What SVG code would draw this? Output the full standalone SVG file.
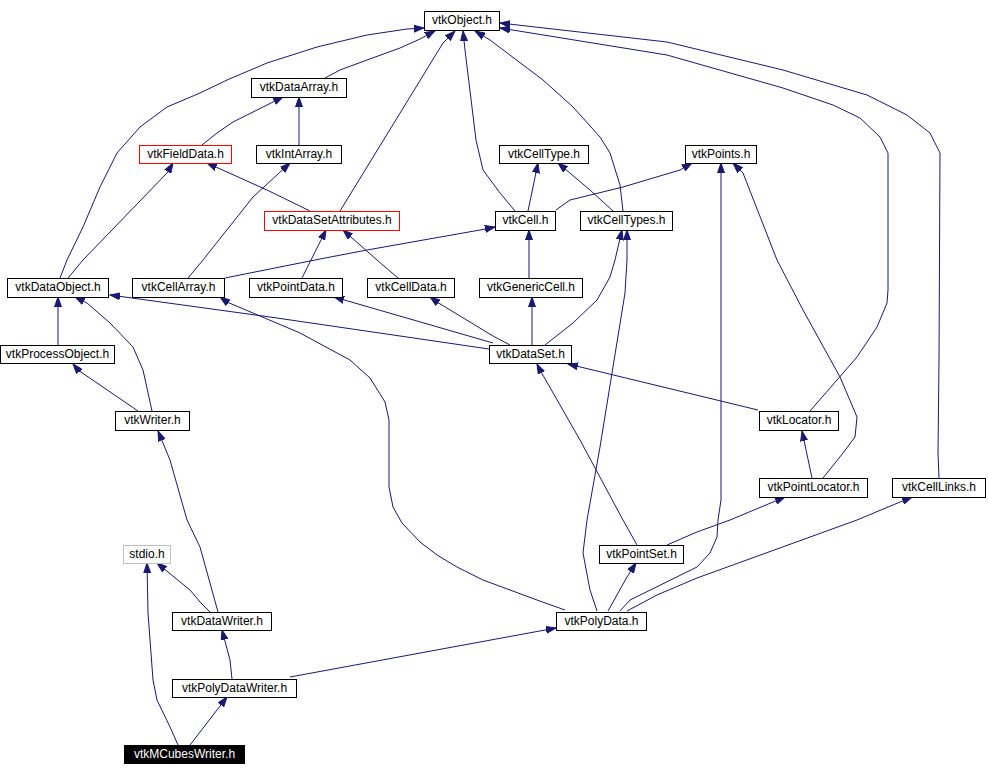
<svg xmlns="http://www.w3.org/2000/svg" width="988" height="776" viewBox="0 0 988 776">
<style>
.n rect{fill:#fff;stroke:#000;stroke-width:1}
.n text{font-family:"Liberation Sans",Arial,Helvetica,sans-serif;font-size:12px;fill:#000;text-anchor:middle}
.n.red rect{stroke:#ff0000}
.n.gray rect{stroke:#bfbfbf}
.n.blk rect{fill:#000}
.n.blk text{fill:#fff}
.e path{fill:none;stroke:#191970;stroke-width:1;marker-end:url(#a)}
</style>
<defs>
<marker id="a" markerWidth="11" markerHeight="8" refX="10" refY="4" orient="auto" markerUnits="userSpaceOnUse">
<path d="M0,0.5 L10,4 L0,7.5 z" fill="#191970" stroke="#191970" stroke-width="1"/>
</marker>
</defs>
<rect width="988" height="776" fill="#fff"/>
<g id="connectors" class="e">
<path d="M60,278 L67,260 L83,227 L100,187 L117,153 L140,127 L167,107 L200,93 L227,80 L267,63 L317,47 L367,35 L407,29 L424,28"/>
<path d="M325,78 L340,70 L367,60 L400,48 L420,39 L435,31"/>
<path d="M340,211 L443,43 L455,31"/>
<path d="M515,211 L500,193 L483,170 L476,140 L465,50 L463,31"/>
<path d="M623,211 L620,185 L610,153 L600,137 L573,107 L543,80 L490,40 L475,31"/>
<path d="M810,411 L857,357 L877,327 L887,303 L888,290 L888,153 L880,137 L860,118 L833,105 L783,88 L667,55 L500,28"/>
<path d="M939,478 L938,453 L939,360 L940,153 L930,133 L907,115 L867,95 L783,70 L667,42 L500,23"/>
<path d="M202,145 L217,133 L233,122 L267,105 L283,97"/>
<path d="M299,145 L299,97"/>
<path d="M68,278 L83,260 L167,173 L173,163"/>
<path d="M310,211 L267,190 L207,163"/>
<path d="M188,278 L203,260 L253,197 L290,163"/>
<path d="M302,278 L310,262 L326,230"/>
<path d="M398,278 L377,260 L343,230"/>
<path d="M528,211 L533,187 L538,163"/>
<path d="M613,211 L590,190 L558,163"/>
<path d="M556,210 L570,200 L623,187 L680,170 L692,163"/>
<path d="M620,611 L630,600 L697,567 L710,553 L717,537 L718,520 L721,500 L721,163"/>
<path d="M823,478 L843,453 L855,437 L857,417 L840,377 L803,310 L777,260 L743,173 L733,163"/>
<path d="M225,278 L320,259 L367,250 L480,230 L495,227"/>
<path d="M529,278 L529,230"/>
<path d="M545,345 L573,323 L597,300 L610,277 L615,260 L622,230"/>
<path d="M597,611 L590,590 L583,553 L587,520 L600,447 L612,373 L625,293 L627,260 L627,230"/>
<path d="M58,345 L58,297"/>
<path d="M152,411 L143,370 L133,347 L110,323 L87,303 L75,297"/>
<path d="M489,349 L270,317 L110,295"/>
<path d="M565,610 L537,600 L510,590 L483,580 L457,567 L437,555 L420,542 L402,523 L393,507 L389,487 L389,420 L385,402 L370,378 L350,360 L300,333 L227,302 L220,297"/>
<path d="M493,343 L334,297"/>
<path d="M510,345 L493,336 L437,302 L430,297"/>
<path d="M532,345 L532,297"/>
<path d="M138,411 L78,370 L73,364"/>
<path d="M758,410 L568,364"/>
<path d="M637,545 L623,520 L580,440 L540,370 L537,364"/>
<path d="M218,612 L200,547 L187,520 L170,460 L158,431"/>
<path d="M812,478 L802,431"/>
<path d="M667,545 L697,532 L730,520 L785,497"/>
<path d="M627,611 L657,595 L697,578 L857,520 L912,497"/>
<path d="M210,612 L200,602 L190,590 L157,563"/>
<path d="M178,745 L170,727 L157,700 L153,680 L148,613 L147,563"/>
<path d="M608,611 L627,577 L636,563"/>
<path d="M232,679 L230,660 L222,630"/>
<path d="M290,677 L556,628"/>
<path d="M190,745 L227,697"/>
</g>
<g id="vtkObject" class="n"><rect x="424.5" y="11.5" width="75" height="19"/><text x="462" y="24">vtkObject.h</text></g>
<g id="vtkDataArray" class="n"><rect x="251.5" y="78.5" width="95" height="19"/><text x="299" y="91">vtkDataArray.h</text></g>
<g id="vtkFieldData" class="n red"><rect x="139.5" y="145.5" width="92" height="18" stroke="#ff0000" style="stroke:#ff0000"/><text x="185.5" y="158">vtkFieldData.h</text></g>
<g id="vtkIntArray" class="n"><rect x="256.5" y="145.5" width="85" height="18"/><text x="299" y="158">vtkIntArray.h</text></g>
<g id="vtkDataSetAttributes" class="n red"><rect x="264.5" y="211.5" width="135" height="19" style="stroke:#ff0000"/><text x="332" y="224">vtkDataSetAttributes.h</text></g>
<g id="vtkCellType" class="n"><rect x="499.5" y="145.5" width="89" height="18"/><text x="544" y="158">vtkCellType.h</text></g>
<g id="vtkPoints" class="n"><rect x="685.5" y="145.5" width="71" height="18"/><text x="721" y="158">vtkPoints.h</text></g>
<g id="vtkCell" class="n"><rect x="495.5" y="211.5" width="60" height="19"/><text x="525.5" y="224">vtkCell.h</text></g>
<g id="vtkCellTypes" class="n"><rect x="580.5" y="211.5" width="92" height="19"/><text x="626.5" y="224">vtkCellTypes.h</text></g>
<g id="vtkDataObject" class="n"><rect x="7.5" y="278.5" width="101" height="19"/><text x="58" y="291">vtkDataObject.h</text></g>
<g id="vtkCellArray" class="n"><rect x="132.5" y="278.5" width="92" height="19"/><text x="178.5" y="291">vtkCellArray.h</text></g>
<g id="vtkPointData" class="n"><rect x="249.5" y="278.5" width="93" height="19"/><text x="296" y="291">vtkPointData.h</text></g>
<g id="vtkCellData" class="n"><rect x="367.5" y="278.5" width="87" height="19"/><text x="411" y="291">vtkCellData.h</text></g>
<g id="vtkGenericCell" class="n"><rect x="479.5" y="278.5" width="103" height="19"/><text x="531" y="291">vtkGenericCell.h</text></g>
<g id="vtkProcessObject" class="n"><rect x="0.5" y="345.5" width="114" height="18"/><text x="57.5" y="358">vtkProcessObject.h</text></g>
<g id="vtkDataSet" class="n"><rect x="489.5" y="345.5" width="82" height="18"/><text x="530.5" y="358">vtkDataSet.h</text></g>
<g id="vtkWriter" class="n"><rect x="115.5" y="411.5" width="74" height="19"/><text x="152.5" y="424">vtkWriter.h</text></g>
<g id="vtkLocator" class="n"><rect x="759.5" y="411.5" width="79" height="19"/><text x="799" y="424">vtkLocator.h</text></g>
<g id="vtkPointLocator" class="n"><rect x="759.5" y="478.5" width="108" height="19"/><text x="813.5" y="491">vtkPointLocator.h</text></g>
<g id="vtkCellLinks" class="n"><rect x="892.5" y="478.5" width="93" height="19"/><text x="939" y="491">vtkCellLinks.h</text></g>
<g id="stdio" class="n gray"><rect x="123.5" y="545.5" width="47" height="18"/><text x="147" y="558">stdio.h</text></g>
<g id="vtkPointSet" class="n"><rect x="599.5" y="545.5" width="84" height="18"/><text x="641.5" y="558">vtkPointSet.h</text></g>
<g id="vtkDataWriter" class="n"><rect x="172.5" y="612.5" width="99" height="18"/><text x="222" y="625">vtkDataWriter.h</text></g>
<g id="vtkPolyData" class="n"><rect x="556.5" y="612.5" width="90" height="18"/><text x="601.5" y="625">vtkPolyData.h</text></g>
<g id="vtkPolyDataWriter" class="n"><rect x="172.5" y="679.5" width="124" height="18"/><text x="234.5" y="692">vtkPolyDataWriter.h</text></g>
<g id="vtkMCubesWriter" class="n blk"><rect x="124.5" y="745.5" width="120" height="18"/><text x="184.5" y="758">vtkMCubesWriter.h</text></g>
</svg>
